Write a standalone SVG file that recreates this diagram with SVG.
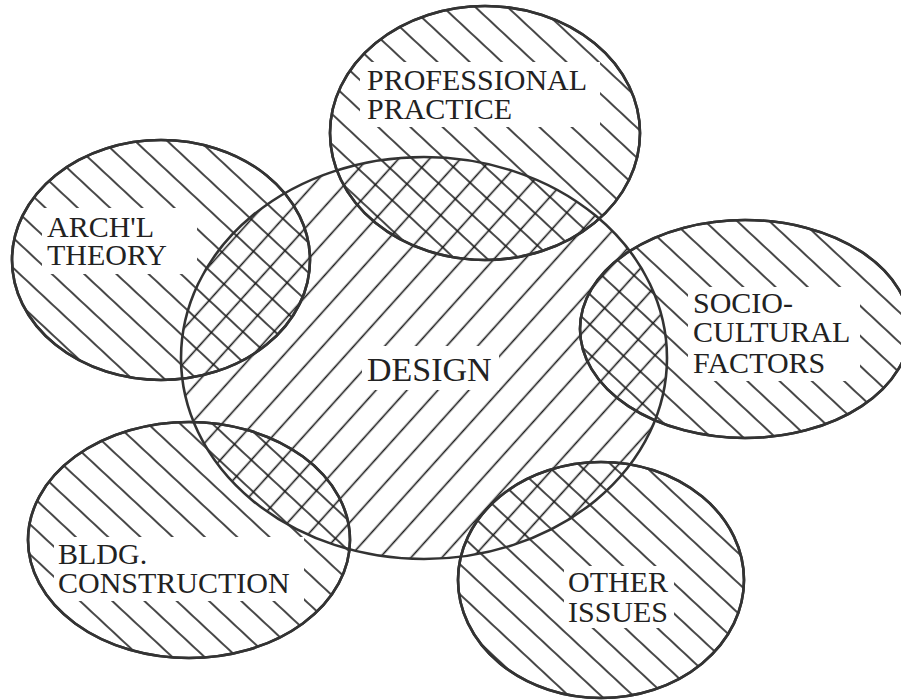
<svg xmlns="http://www.w3.org/2000/svg" width="901" height="700" viewBox="0 0 901 700">
<defs>
<pattern id="back" patternUnits="userSpaceOnUse" width="22" height="22" patternTransform="rotate(43)">
<line x1="0" y1="11" x2="22" y2="11" stroke="#1a1a1a" stroke-width="1.6"/>
</pattern>
<pattern id="fwd" patternUnits="userSpaceOnUse" width="23" height="23" patternTransform="rotate(-48)">
<line x1="0" y1="11.5" x2="23" y2="11.5" stroke="#1a1a1a" stroke-width="1.6"/>
</pattern>
</defs>
<style>
.outer { fill: url(#back); stroke: #333; stroke-width: 2.6; }
.center { fill: url(#fwd); stroke: #333; stroke-width: 2.6; }
.gap { fill: #fff; stroke: none; }
.lbl { font-family: "Liberation Serif", "Times New Roman", serif; font-size: 30px; fill: #222; }
.big { font-size: 34px; }
.ring { fill: none; stroke: #333; stroke-width: 2.6; }
</style>
<rect width="901" height="700" fill="#fff"/>
<g id="connectors"/>
<g id="professional-practice">
<ellipse class="outer" cx="485" cy="133" rx="155" ry="127"/>
<rect class="gap" x="360" y="62" width="240" height="65"/>
<text class="lbl" x="367" y="90">PROFESSIONAL</text>
<text class="lbl" x="367" y="119">PRACTICE</text>
</g>
<g id="archl-theory">
<ellipse class="outer" cx="161" cy="260" rx="149" ry="120"/>
<rect class="gap" x="42" y="208" width="155" height="66"/>
<text class="lbl" x="47" y="237">ARCH'L</text>
<text class="lbl" x="47" y="265">THEORY</text>
</g>
<g id="socio-cultural-factors">
<ellipse class="outer" cx="745" cy="329" rx="165" ry="109"/>
<rect class="gap" x="688" y="287" width="172" height="94"/>
<text class="lbl" x="693" y="313">SOCIO-</text>
<text class="lbl" x="693" y="342">CULTURAL</text>
<text class="lbl" x="693" y="373">FACTORS</text>
</g>
<g id="bldg-construction">
<ellipse class="outer" cx="189" cy="540" rx="161" ry="118"/>
<rect class="gap" x="54" y="537" width="250" height="64"/>
<text class="lbl" x="58" y="564">BLDG.</text>
<text class="lbl" x="58" y="593">CONSTRUCTION</text>
</g>
<g id="other-issues">
<ellipse class="outer" cx="601" cy="580" rx="143" ry="118"/>
<rect class="gap" x="564" y="566" width="110" height="62"/>
<text class="lbl" x="568" y="592">OTHER</text>
<text class="lbl" x="568" y="622">ISSUES</text>
</g>
<g id="design">
<ellipse class="center" cx="424" cy="358" rx="243" ry="201"/>
<rect class="gap" x="362" y="346" width="137" height="44"/>
<text class="lbl big" x="367" y="381">DESIGN</text>
</g>
<g id="outlines">
<ellipse class="ring" cx="485" cy="133" rx="155" ry="127"/>
<ellipse class="ring" cx="161" cy="260" rx="149" ry="120"/>
<ellipse class="ring" cx="745" cy="329" rx="165" ry="109"/>
<ellipse class="ring" cx="189" cy="540" rx="161" ry="118"/>
<ellipse class="ring" cx="601" cy="580" rx="143" ry="118"/>
</g>
</svg>
